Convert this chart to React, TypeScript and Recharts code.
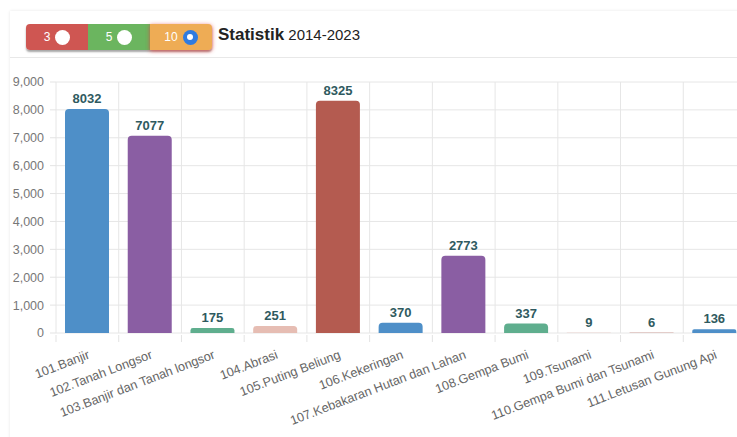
import React from "react";
import { BarChart, Bar, XAxis, YAxis, CartesianGrid, Cell, LabelList } from "recharts";

const categories = [
  "101.Banjir",
  "102.Tanah Longsor",
  "103.Banjir dan Tanah longsor",
  "104.Abrasi",
  "105.Puting Beliung",
  "106.Kekeringan",
  "107.Kebakaran Hutan dan Lahan",
  "108.Gempa Bumi",
  "109.Tsunami",
  "110.Gempa Bumi dan Tsunami",
  "111.Letusan Gunung Api",
];
const values = [8032, 7077, 175, 251, 8325, 370, 2773, 337, 9, 6, 136];
const palette = ["#4e8fc8", "#8a5ea3", "#5fae8e", "#e6bdb3", "#b45b50"];
const yTicks = [0, 1000, 2000, 3000, 4000, 5000, 6000, 7000, 8000, 9000];
const buttons = [
  { label: "3", color: "#cf5652", selected: false },
  { label: "5", color: "#6bb55f", selected: false },
  { label: "10", color: "#eeac55", selected: true },
];

const data = categories.map((c, i) => ({ name: c, value: values[i] }));
const FONT = "'Liberation Sans', Arial, Helvetica, sans-serif";

const XTick = (props: any) => {
  const { x, y, payload, width } = props;
  const bw = width / categories.length;
  const bx = x - bw / 2;
  return (
    <g>
      <line x1={bx} y1={y} x2={bx} y2={y + 7} stroke="#e3e3e3" />
      <g transform={`translate(${x + 3},${y + 23})`}>
        <text textAnchor="end" transform="rotate(-21)" fill="#666" fontSize={12.7} fontFamily={FONT}>
          {payload.value}
        </text>
      </g>
    </g>
  );
};

export default function App() {
  return (
    <div style={{ position: "absolute", left: 0, top: 0, width: 737, height: 437, overflow: "hidden", background: "#fff", fontFamily: FONT }}>
      <div style={{ position: "absolute", left: 10, top: 11, width: 760, height: 430, boxShadow: "0 0 3px rgba(0,0,0,0.10)", background: "#fff" }} />
      <div style={{ position: "absolute", left: 10, top: 57, width: 760, height: 1, background: "#e8e8e8" }} />
      <div style={{ position: "absolute", left: 26, top: 24, height: 26, display: "flex", borderRadius: 4, boxShadow: "0 2px 2px rgba(0,0,0,0.35)" }}>
        {buttons.map((b, i) => (
          <div
            key={b.label}
            style={{
              width: 62,
              height: 26,
              background: b.color,
              display: "flex",
              alignItems: "center",
              justifyContent: "center",
              gap: 5,
              borderTopLeftRadius: i === 0 ? 4 : 0,
              borderBottomLeftRadius: i === 0 ? 4 : 0,
              borderTopRightRadius: i === buttons.length - 1 ? 4 : 0,
              borderBottomRightRadius: i === buttons.length - 1 ? 4 : 0,
              boxShadow: b.selected ? "0 1px 4px rgba(230,60,60,0.8)" : "none",
              color: "#fff",
              fontSize: 12,
            }}
          >
            <span>{b.label}</span>
            {b.selected ? (
              <span style={{ width: 15, height: 15, borderRadius: "50%", background: "#2f7be0", display: "flex", alignItems: "center", justifyContent: "center" }}>
                <span style={{ width: 6, height: 6, borderRadius: "50%", background: "#fff" }} />
              </span>
            ) : (
              <span style={{ width: 15, height: 15, borderRadius: "50%", background: "#fff" }} />
            )}
          </div>
        ))}
      </div>
      <div style={{ position: "absolute", left: 218, top: 25, color: "#222", whiteSpace: "nowrap" }}>
        <span style={{ fontWeight: "bold", fontSize: 17 }}>Statistik</span>
        <span style={{ fontSize: 15 }}> 2014-2023</span>
      </div>
      <div style={{ position: "absolute", left: 0, top: 60 }}>
        <BarChart width={760} height={377} data={data} margin={{ top: 22, right: 14, bottom: 4, left: 0 }}>
          <CartesianGrid
            stroke="#e6e6e6"
            verticalCoordinatesGenerator={(p: any) => {
              const off = p.offset || { left: 56, width: 690 };
              return categories.map((_, i) => off.left + (i * off.width) / categories.length);
            }}
          />
          <XAxis
            dataKey="name"
            interval={0}
            height={100}
            tickLine={false}
            axisLine={false}
            tickSize={0}
            tick={<XTick />}
          />
          <YAxis
            width={56}
            domain={[0, 9000]}
            ticks={yTicks}
            axisLine={false}
            tickSize={6}
            tickMargin={6}
            tickLine={{ stroke: "#e3e3e3" }}
            tick={{ fill: "#777", fontSize: 12.5, fontFamily: FONT }}
            tickFormatter={(v: number) => v.toLocaleString("en-US")}
          />
          <Bar dataKey="value" barSize={44} radius={[4, 4, 0, 0]} isAnimationActive={false}>
            {data.map((d, i) => (
              <Cell key={d.name} fill={palette[i % palette.length]} />
            ))}
            <LabelList dataKey="value" position="top" offset={6} fill="#2f5a60" fontSize={13} fontWeight="bold" fontFamily={FONT} />
          </Bar>
        </BarChart>
      </div>
    </div>
  );
}
